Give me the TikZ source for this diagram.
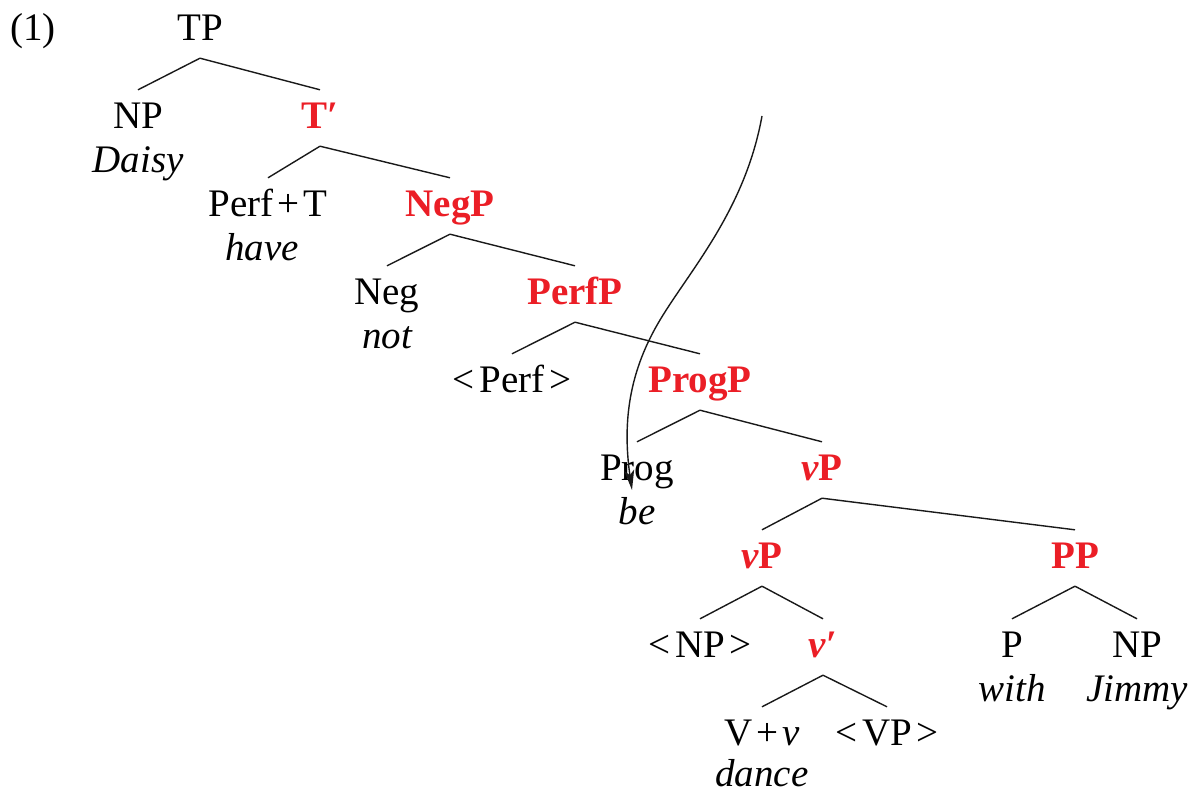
\documentclass[tikz,border=0pt]{standalone}
\usepackage{fontspec}
\setmainfont{Liberation Serif}
\usetikzlibrary{arrows.meta}
\definecolor{synred}{RGB}{235,30,38}
\begin{document}
\begin{tikzpicture}[x=1pt,y=-1pt,
  lab/.style={anchor=base,inner xsep=2pt,inner ysep=13pt,text height=25pt,text depth=5pt,font=\fontsize{39}{44}\selectfont},
  hl/.style={lab,text=synred,font=\fontsize{39}{44}\selectfont\bfseries},
  word/.style={anchor=base,inner sep=0pt,font=\fontsize{39}{44}\selectfont\itshape},
  branch/.style={line width=1.4pt,draw=black!90},
  move/.style={line width=1.4pt,draw=black!90,-{Stealth[length=20pt,width=10pt,inset=5pt]}}]
\useasboundingbox (0,0) rectangle (1191,795);
\node[word,font=\fontsize{39}{44}\selectfont] (num) at (33,40) {(1)};
\node[lab] (TP) at (200,40) {TP};
\node[lab] (NP) at (138,128) {NP};
\node[word] (Daisy) at (138,172) {Daisy};
\node[hl] (Tbar) at (320,128) {T′};
\node[lab] (PerfT) at (268,216) {Perf\kern4pt+\kern4pt T};
\node[word] (have) at (262,260) {have};
\node[hl] (NegP) at (450,216) {NegP};
\node[lab] (Neg) at (387,304) {Neg};
\node[word] (not) at (387,348) {not};
\node[hl] (PerfP) at (575,304) {PerfP};
\node[lab] (Perf) at (512,392) {<\kern5pt Perf\kern5pt>};
\node[hl] (ProgP) at (700,392) {ProgP};
\node[lab] (Prog) at (637,480) {Prog};
\node[word] (be) at (637,524) {be};
\node[hl] (vP1) at (822,480) {\textit{v}P};
\node[hl] (vP2) at (762,568) {\textit{v}P};
\node[hl] (PP) at (1075,568) {PP};
\node[lab] (NPt) at (700,657) {<\kern5pt NP\kern5pt>};
\node[hl] (vbar) at (823,657) {\textit{v}′};
\node[lab] (P) at (1012,657) {P};
\node[word] (with) at (1012,701) {with};
\node[lab] (NPj) at (1137,657) {NP};
\node[word] (Jimmy) at (1137,701) {Jimmy};
\node[lab] (Vv) at (762,745) {V\kern4pt+\kern4pt\textit{v}};
\node[word] (dance) at (762,786) {dance};
\node[lab] (VPt) at (887,745) {<\kern5pt VP\kern5pt>};
\foreach \p/\c in {TP/NP,TP/Tbar,Tbar/PerfT,Tbar/NegP,NegP/Neg,NegP/PerfP,PerfP/Perf,PerfP/ProgP,ProgP/Prog,ProgP/vP1,vP1/vP2,vP1/PP,vP2/NPt,vP2/vbar,vbar/Vv,vbar/VPt,PP/P,PP/NPj}
  \draw[branch] (\p.south) -- (\c.north);
\coordinate (start) at (762,116);
\coordinate (tip) at (632,490);
\draw[move] (start) .. controls (745,210) and (690,270) .. (660,320)
   .. controls (630,370) and (622,420) .. (tip);
\end{tikzpicture}
\end{document}
